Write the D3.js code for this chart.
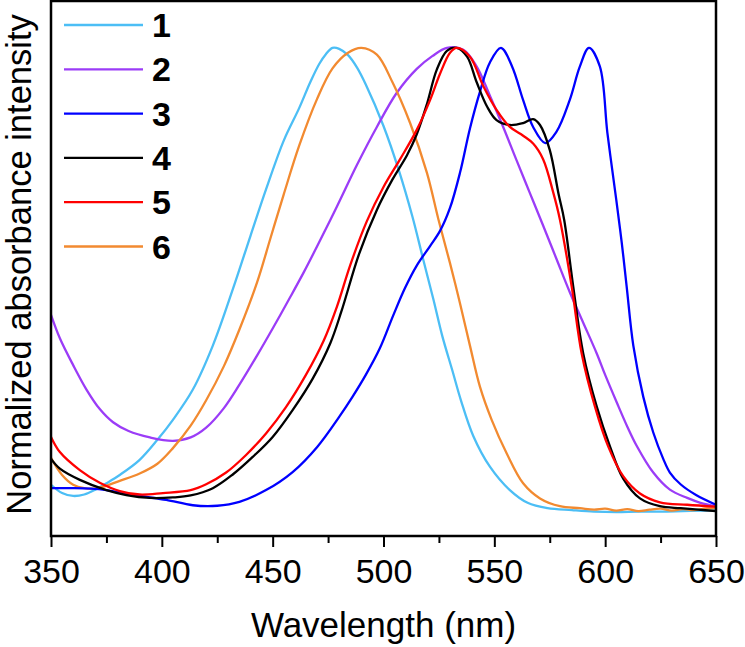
<!DOCTYPE html>
<html>
<head>
<meta charset="utf-8">
<script src="https://cdn.jsdelivr.net/npm/d3@7"></script>
<style>
  html, body { margin: 0; padding: 0; background: #fff; }
  svg text { font-family: "Liberation Sans", Arial, Helvetica, sans-serif; fill: #000; }
</style>
</head>
<body>
<svg id="chart" width="745" height="647"></svg>
<script>
// ---- data ----
const seriesNames = ["1", "2", "3", "4", "5", "6"];
const seriesColors = ["#4cbef5", "#9b3cf7", "#0000ff", "#000000", "#ff0000", "#f28a30"];

const wl1 = [350,355,360,365,370,375,381,390,398,405,414,423,432,440,447,455,462,467,471,474,477,480,484,488,492,500,507,513,518,522.5,526.5,531,535,540.5,548,557,565,574,585,595,605,615,625,635,645,650];
const abs1 = [0.105,0.088,0.082,0.085,0.095,0.108,0.125,0.156,0.197,0.238,0.30,0.39,0.505,0.615,0.71,0.81,0.877,0.93,0.967,0.987,1.0,0.998,0.985,0.96,0.925,0.84,0.748,0.655,0.565,0.485,0.41,0.34,0.277,0.205,0.142,0.094,0.068,0.057,0.053,0.05,0.049,0.05,0.05,0.051,0.052,0.053];

const wl2 = [350,354,360,366,372,378,385,394.6,405,413,420,428,435,443,450,458,464,470,479,488,497,506,515,522,528.6,536,542,548,554,560,566,572,578,584,590,596.2,600,605.2,610,614.2,621.7,629.2,637,643,650];
const abs2 = [0.453,0.405,0.35,0.30,0.26,0.233,0.215,0.202,0.195,0.202,0.222,0.262,0.31,0.37,0.425,0.49,0.54,0.593,0.675,0.76,0.838,0.908,0.957,0.983,1.0,0.996,0.962,0.902,0.838,0.77,0.703,0.636,0.568,0.50,0.438,0.374,0.33,0.274,0.224,0.185,0.13,0.095,0.078,0.068,0.061];

const wl3 = [350,360,368,375,390,402,414,425,435,447,459,470,480,486,492,498.4,504.4,509.7,515,521,525.5,530,534.5,539,543.5,548,553,558,563,567.5,573,578,584,588.6,592.7,597.6,601,605,607.5,609.7,612.7,617.2,621.7,626.2,629.2,634,641,650];
const abs3 = [0.098,0.098,0.097,0.094,0.082,0.074,0.063,0.062,0.07,0.094,0.131,0.182,0.244,0.285,0.33,0.385,0.452,0.508,0.554,0.594,0.625,0.672,0.744,0.835,0.91,0.97,1.0,0.962,0.893,0.838,0.805,0.828,0.893,0.962,1.0,0.962,0.826,0.689,0.60,0.511,0.39,0.285,0.212,0.158,0.13,0.106,0.084,0.064];

const wl4 = [350,354,363,375,384,394.6,405,413,423,432,441,450,459,468,476,481,489,497,504,510.6,515,519.6,524,528.6,533,537.7,542,546.7,551,557,563,567.5,570.6,575,579,581.5,585.6,590.1,596.2,602.2,608.2,615.7,624.7,634,642,650];
const abs4 = [0.158,0.138,0.115,0.094,0.084,0.078,0.079,0.083,0.098,0.126,0.162,0.203,0.258,0.322,0.395,0.46,0.578,0.668,0.73,0.78,0.823,0.885,0.955,0.994,1.0,0.982,0.93,0.88,0.852,0.842,0.846,0.854,0.842,0.791,0.70,0.648,0.511,0.374,0.265,0.183,0.117,0.077,0.061,0.057,0.054,0.051];

const wl5 = [350,354,363,372,381,390,400.5,413,420,429,438,447,456,465,473,479,485,492.5,500,507.5,515,521,525.5,530,533,539,545,551,557,563,567.5,572,576.5,579.6,584.9,589.4,595.4,601.4,608.2,615.7,624.7,637,650];
const abs5 = [0.203,0.172,0.135,0.109,0.092,0.085,0.088,0.094,0.106,0.13,0.166,0.21,0.264,0.33,0.40,0.47,0.555,0.645,0.715,0.772,0.832,0.893,0.947,0.99,1.0,0.982,0.922,0.873,0.838,0.82,0.804,0.772,0.705,0.648,0.511,0.374,0.265,0.183,0.122,0.087,0.069,0.064,0.06];

const wl6 = [350,355,360,365,371,381,390,398,405,413,420,428,435,443,449,455,462,470,477,484,490,497,504,512,519.6,524.7,530,534.5,539,543.5,548.8,555.6,563,570.6,579.6,588.6,595,600,605,610,615,620,625,630,635,640,645,650];
const abs6 = [0.16,0.125,0.105,0.098,0.098,0.113,0.128,0.148,0.18,0.226,0.278,0.348,0.423,0.52,0.61,0.70,0.80,0.895,0.958,0.99,1.0,0.986,0.93,0.846,0.744,0.65,0.559,0.477,0.39,0.306,0.238,0.169,0.108,0.077,0.061,0.057,0.054,0.056,0.052,0.055,0.051,0.054,0.056,0.052,0.055,0.053,0.056,0.057];

const xMajorTicks = [350, 400, 450, 500, 550, 600, 650];
const xMinorTicks = [375, 425, 475, 525, 575, 625];
const xTitle = "Wavelength (nm)";
const yTitle = "Normalized absorbance intensity";

const wavelengths = [wl1, wl2, wl3, wl4, wl5, wl6];
const absorbances = [abs1, abs2, abs3, abs4, abs5, abs6];

// ---- layout ----
const svg = d3.select("#chart");
const plotLeft = 51, plotRight = 716, plotTop = 1, plotBottom = 536;

const x = d3.scaleLinear().domain([350, 650]).range([plotLeft, plotRight]);
const y = d3.scaleLinear().domain([0, 1.096]).range([plotBottom, plotTop]);

const line = d3.line()
  .x(d => x(d[0]))
  .y(d => y(d[1]))
  .curve(d3.curveCatmullRom.alpha(0.5));

// curves
const drawOrder = [0, 1, 5, 2, 3, 4];
drawOrder.forEach(i => {
  const pts = wavelengths[i].map((w, k) => [w, absorbances[i][k]]);
  svg.append("path")
    .datum(pts)
    .attr("d", line)
    .attr("fill", "none")
    .attr("stroke", seriesColors[i])
    .attr("stroke-width", 2.3)
    .attr("stroke-linejoin", "round");
});

// frame
svg.append("rect")
  .attr("x", plotLeft).attr("y", plotTop)
  .attr("width", plotRight - plotLeft).attr("height", plotBottom - plotTop)
  .attr("fill", "none").attr("stroke", "#000").attr("stroke-width", 2.5);

// bottom axis: major ticks with labels
const xAxisMajor = d3.axisBottom(x).tickValues(xMajorTicks).tickSize(11).tickFormat(d3.format("d"));
const gMajor = svg.append("g").attr("transform", `translate(0,${plotBottom})`).call(xAxisMajor);
gMajor.select(".domain").remove();
gMajor.selectAll(".tick line").attr("stroke", "#000").attr("stroke-width", 2);
gMajor.selectAll(".tick text")
  .attr("y", 23).attr("dy", "0.71em")
  .style("font-size", "34px")
  .style("font-family", "'Liberation Sans', Arial, Helvetica, sans-serif")
  .attr("fill", "#000");

// minor ticks
const xAxisMinor = d3.axisBottom(x).tickValues(xMinorTicks).tickSize(7).tickFormat("");
const gMinor = svg.append("g").attr("transform", `translate(0,${plotBottom})`).call(xAxisMinor);
gMinor.select(".domain").remove();
gMinor.selectAll(".tick line").attr("stroke", "#000").attr("stroke-width", 2);

// axis titles
svg.append("text")
  .attr("x", (plotLeft + plotRight) / 2).attr("y", 637)
  .attr("text-anchor", "middle")
  .style("font-size", "35px")
  .text(xTitle);

svg.append("text")
  .attr("transform", `translate(31,${(plotTop + plotBottom) / 2 - 4}) rotate(-90)`)
  .attr("text-anchor", "middle")
  .style("font-size", "34.5px")
  .text(yTitle);

// legend
const legend = svg.append("g");
seriesNames.forEach((name, i) => {
  const ly = 25 + i * 44.3;
  legend.append("line")
    .attr("x1", 64).attr("x2", 143)
    .attr("y1", ly).attr("y2", ly)
    .attr("stroke", seriesColors[i]).attr("stroke-width", 2.3);
  legend.append("text")
    .attr("x", 152).attr("y", ly + 12)
    .style("font-size", "34px")
    .style("font-weight", "bold")
    .text(name);
});
</script>
</body>
</html>
